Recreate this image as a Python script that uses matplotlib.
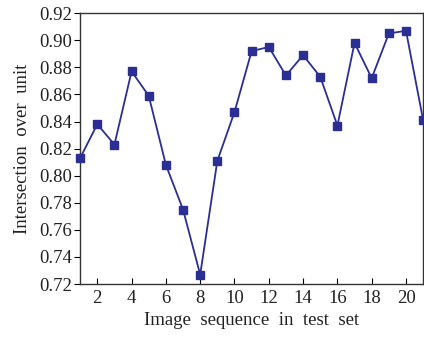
import matplotlib.pyplot as plt
import numpy as np

plt.rcParams['font.family'] = ['Liberation Serif', 'DejaVu Serif']

# test image index and IoU values
seq = list(range(1, 22))
iou = [0.813, 0.838, 0.823, 0.877, 0.859, 0.808, 0.775, 0.727, 0.811, 0.847,
       0.892, 0.895, 0.874, 0.889, 0.873, 0.837, 0.898, 0.872, 0.905, 0.907,
       0.841]

xticks = [2, 4, 6, 8, 10, 12, 14, 16, 18, 20]
yticks = [0.72, 0.74, 0.76, 0.78, 0.80, 0.82, 0.84, 0.86, 0.88, 0.90, 0.92]

fig = plt.figure(figsize=(4.24, 3.37), dpi=100)
ax = fig.add_axes([0.189, 0.157, 0.809, 0.804])

ax.plot(seq, iou, color='#2b2e93', marker='s', markersize=5.3, linewidth=1.3,
        clip_on=False, zorder=3)

ax.set_xlim(1, 21)
ax.set_ylim(0.72, 0.92)
ax.set_xticks(xticks)
ax.set_yticks(yticks)
ax.set_yticklabels(['%.2f' % v for v in yticks])
ax.tick_params(axis='x', direction='in', length=4, labelsize=13.5, pad=4,
               labelcolor='#222222')
ax.tick_params(axis='y', direction='out', length=4, labelsize=13.5, pad=2,
               labelcolor='#222222')
for s in ax.spines.values():
    s.set_color('#333333')
    s.set_linewidth(1.0)

ax.set_xlabel('Image  sequence  in  test  set', fontsize=13.5, labelpad=4,
              color='#222222')
ax.set_ylabel('Intersection  over  unit', fontsize=13.5, labelpad=6,
              color='#222222')

fig.savefig('out.png', dpi=100)
